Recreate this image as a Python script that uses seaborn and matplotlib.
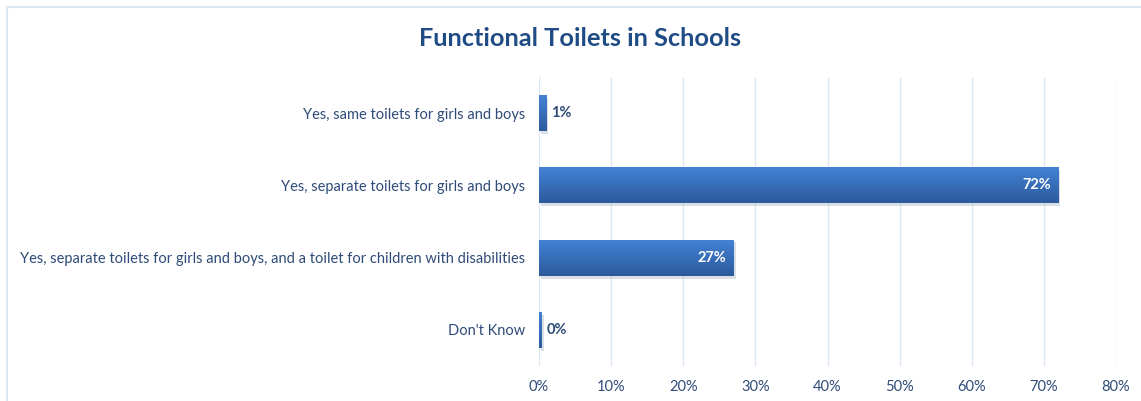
import numpy as np
import pandas as pd
import matplotlib
matplotlib.use("Agg")
import matplotlib.pyplot as plt
from matplotlib.patches import Rectangle
from matplotlib.colors import LinearSegmentedColormap
import seaborn as sns

categories = [
    "Yes, same toilets for girls and boys",
    "Yes, separate toilets for girls and boys",
    "Yes, separate toilets for girls and boys, and a toilet for children with disabilities",
    "Don't Know",
]
shares = [1.0, 72.0, 27.0, 0.4]
x_ticks = [0, 10, 20, 30, 40, 50, 60, 70, 80]
title = "Functional Toilets in Schools"

df = pd.DataFrame({"category": categories, "share": shares})

sns.set_theme(style="white")
plt.rcParams["font.family"] = ["Lato", "DejaVu Sans"]

text_col = "#2F4B78"
title_col = "#1F4C85"
grid_col = "#DCE7F4"

fig = plt.figure(figsize=(11.41, 4.01), dpi=100)
ax = fig.add_axes([0.4724, 0.0873, 0.5057, 0.7207])

sns.barplot(data=df, x="share", y="category", orient="h", color="#3A70BA",
            width=0.5, ax=ax, saturation=1, zorder=3, linewidth=0,
            edgecolor="none")

ax.set_xlim(0, 80)
ax.set_xticks(x_ticks)
ax.set_xticklabels([f"{t}%" for t in x_ticks], color=text_col, fontsize=10.5)
ax.tick_params(axis="x", length=0, pad=10)
ax.tick_params(axis="y", length=0, pad=10)
for lbl in ax.get_yticklabels():
    lbl.set_color(text_col)
    lbl.set_fontsize(10.5)
ax.set_xlabel("")
ax.set_ylabel("")
ax.xaxis.grid(True, color=grid_col, linewidth=1.0, zorder=0)
ax.yaxis.grid(False)
for s in ax.spines.values():
    s.set_visible(False)

# vertical gradient fill and soft shadow for each bar
cmap = LinearSegmentedColormap.from_list("barfill", ["#4383D6", "#2C5A9C"])
grad = np.linspace(0, 1, 64).reshape(-1, 1)
for patch, val in zip(ax.patches, shares):
    x0, y0 = patch.get_x(), patch.get_y()
    w, h = patch.get_width(), patch.get_height()
    shadow = Rectangle((x0 + 0.25, y0 + 0.04), w, h, facecolor="#9AA7B8",
                       alpha=0.35, edgecolor="none", zorder=2)
    ax.add_patch(shadow)
    im = ax.imshow(grad, cmap=cmap, aspect="auto",
                   extent=(x0, x0 + w, y0 + h, y0), zorder=3.5)
    im.set_clip_path(patch)
    label = f"{round(val):d}%"
    if val > 10:
        ax.text(x0 + w - 1.0, y0 + h / 2, label, ha="right", va="center",
                color="white", fontsize=10.5, fontweight="bold", zorder=5)
    else:
        ax.text(x0 + w + 0.6, y0 + h / 2, label, ha="left", va="center",
                color=text_col, fontsize=10.5, fontweight="bold", zorder=5)
ax.set_ylim(3.5, -0.5)

fig.text(0.508, 0.903, title, ha="center", va="center", color=title_col,
         fontsize=18.3, fontweight="bold")

# chart area border
fig.add_artist(Rectangle((7 / 1141, -0.1), 1.2, 1 - 7 / 401 + 0.1,
                         transform=fig.transFigure, fill=False,
                         edgecolor="#DCE6F2", linewidth=1.5))

fig.savefig("out.png", dpi=100)
